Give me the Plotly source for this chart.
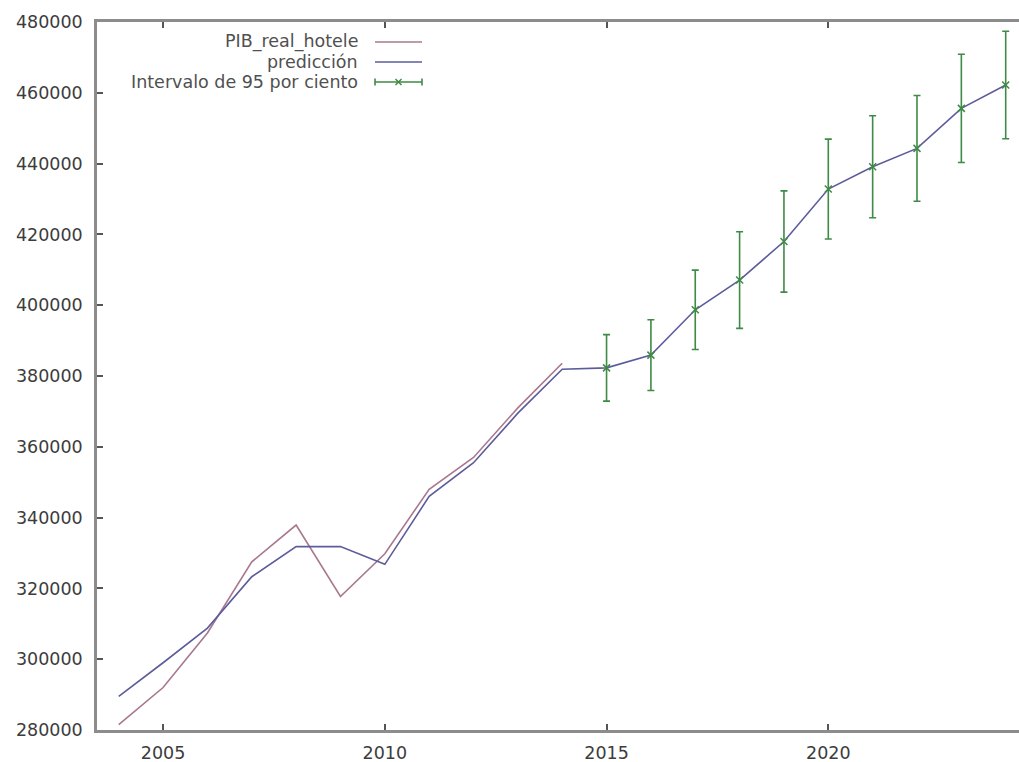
import plotly.graph_objects as go

# Observed real GDP of the hotel sector
years_real = [2004, 2005, 2006, 2007, 2008, 2009, 2010, 2011, 2012, 2013, 2014]
pib_real_hotele = [281500, 292000, 307400, 327500, 337900, 317700, 329800,
                   348000, 357000, 371000, 383600]

# Model prediction (in-sample fit + forecast)
years_pred = list(range(2004, 2025))
prediccion = [289500, 299000, 308800, 323300, 331800, 331800, 326800,
              346000, 355500, 369500, 381900, 382300, 385900, 398700,
              407100, 418000, 432800, 439100, 444300, 455600, 462200]

# 95% interval half-widths for the forecast years
years_int = list(range(2015, 2025))
intervalo_95 = [9400, 10000, 11200, 13650, 14300, 14100, 14400, 14950, 15300, 15200]

x_ticks = [2005, 2010, 2015, 2020]
y_ticks = list(range(280000, 480001, 20000))
y_tick_labels = [str(v) for v in y_ticks]

legend_labels = ["PIB_real_hotele", "predicción", "Intervalo de 95 por ciento"]

C_REAL = "#a8788e"
C_PRED = "#5c5c9c"
C_INT = "#3f8a45"
C_AXIS = "#8c8c8c"
C_TEXT = "#3c3c3c"
FONT = "DejaVu Sans"
FS = 17.5

pred_at = dict(zip(years_pred, prediccion))
int_centres = [pred_at[y] for y in years_int]

fig = go.Figure()
fig.add_trace(go.Scatter(x=years_real, y=pib_real_hotele, mode="lines",
                         line=dict(color=C_REAL, width=1.6), showlegend=False))
fig.add_trace(go.Scatter(x=years_pred, y=prediccion, mode="lines",
                         line=dict(color=C_PRED, width=1.6), showlegend=False))
fig.add_trace(go.Scatter(x=years_int, y=int_centres, mode="markers",
                         marker=dict(symbol="x-thin", size=7,
                                     line=dict(color=C_INT, width=1.5),
                                     color=C_INT),
                         error_y=dict(type="data", array=intervalo_95, visible=True,
                                      color=C_INT, thickness=1.6, width=3.5),
                         showlegend=False))

# Key in the upper-left corner: right-aligned labels, samples to their right
W, H = 1019, 762
L, R, T, B = 97, 0, 22, 32
pw, ph = W - L - R, H - T - B


def px(xp):
    return (xp - L) / pw


def py(yp):
    return (H - B - yp) / ph


rows = [42, 62, 82]
text_right, s0, s1 = 360, 375, 422
shapes = []
annotations = []
for label, yrow in zip(legend_labels, rows):
    annotations.append(dict(x=px(text_right), y=py(yrow), xref="paper", yref="paper",
                            text=label, showarrow=False, xanchor="right",
                            yanchor="middle", font=dict(family=FONT, size=FS,
                                                        color="#505050")))
shapes.append(dict(type="line", xref="paper", yref="paper", x0=px(s0), x1=px(s1),
                   y0=py(rows[0]), y1=py(rows[0]), line=dict(color=C_REAL, width=1.6)))
shapes.append(dict(type="line", xref="paper", yref="paper", x0=px(s0), x1=px(s1),
                   y0=py(rows[1]), y1=py(rows[1]), line=dict(color=C_PRED, width=1.6)))
yg = rows[2]
shapes.append(dict(type="line", xref="paper", yref="paper", x0=px(s0), x1=px(s1),
                   y0=py(yg), y1=py(yg), line=dict(color=C_INT, width=1.6)))
for xe in (s0, s1):
    shapes.append(dict(type="line", xref="paper", yref="paper", x0=px(xe), x1=px(xe),
                       y0=py(yg - 3.5), y1=py(yg + 3.5), line=dict(color=C_INT, width=1.6)))
xm = (s0 + s1) / 2
for d in (1, -1):
    shapes.append(dict(type="line", xref="paper", yref="paper", x0=px(xm - 3), x1=px(xm + 3),
                       y0=py(yg - 3 * d), y1=py(yg + 3 * d),
                       line=dict(color=C_INT, width=1.5)))

fig.update_layout(
    width=W, height=H,
    margin=dict(l=L, r=R, t=T, b=B, pad=0),
    paper_bgcolor="white", plot_bgcolor="white",
    font=dict(family=FONT, size=FS, color=C_TEXT),
    shapes=shapes, annotations=annotations,
    showlegend=False,
)
fig.update_xaxes(range=[2003.51, 2024.3], tickvals=x_ticks, ticks="inside", ticklen=6,
                 tickcolor="#555555", tickwidth=1.5, showgrid=False, zeroline=False,
                 showline=True, linecolor=C_AXIS, linewidth=2.5, mirror="ticks",
                 ticklabelstandoff=5, tickfont=dict(family=FONT, size=FS, color=C_TEXT))
fig.update_yaxes(range=[280000, 480000], tickvals=y_ticks, ticktext=y_tick_labels,
                 ticks="inside", ticklen=6,
                 tickcolor="#555555", tickwidth=1.5, showgrid=False, zeroline=False,
                 showline=True, linecolor=C_AXIS, linewidth=2.5,
                 ticklabelstandoff=8, tickfont=dict(family=FONT, size=FS, color=C_TEXT))

fig.write_html("out.html")
